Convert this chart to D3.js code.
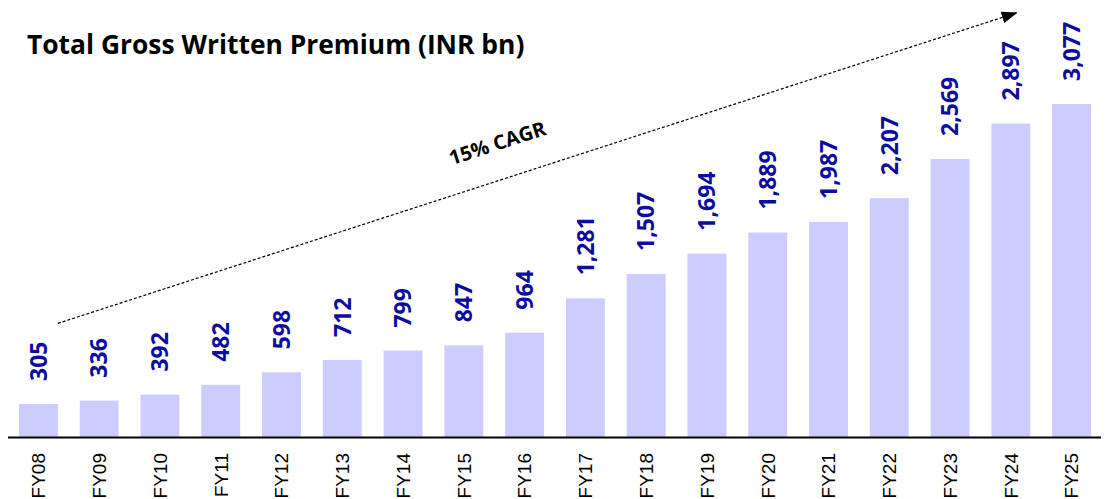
<!DOCTYPE html>
<html>
<head>
<meta charset="utf-8">
<script src="https://cdn.jsdelivr.net/npm/d3@7"></script>
<style>
  html, body { margin: 0; padding: 0; background: #fff; }
  svg { display: block; }
</style>
</head>
<body>
<script>
const years = ["FY08","FY09","FY10","FY11","FY12","FY13","FY14","FY15","FY16","FY17","FY18","FY19","FY20","FY21","FY22","FY23","FY24","FY25"];
const premium = [305,336,392,482,598,712,799,847,964,1281,1507,1694,1889,1987,2207,2569,2897,3077];
const titleText = "Total Gross Written Premium (INR bn)";
const cagrText = "15% CAGR";

const width = 1106, height = 499;
const fmt = d3.format(",");
const boldFont = "'Open Sans', sans-serif";

const svg = d3.select("body").append("svg")
    .attr("width", width).attr("height", height);

// marker for the trend arrow
svg.append("defs").append("marker")
    .attr("id", "arrowHead")
    .attr("viewBox", "0 0 16 12")
    .attr("refX", 15).attr("refY", 6)
    .attr("markerWidth", 16).attr("markerHeight", 12)
    .attr("markerUnits", "userSpaceOnUse")
    .attr("orient", "auto")
  .append("path")
    .attr("d", "M0,0 L16,6 L0,12 Z")
    .attr("fill", "#000");

var x = d3.scaleBand()
    .domain(years)
    .range([8, 1102])
    .paddingInner(0.36)
    .paddingOuter(0.18);

var y = d3.scaleLinear()
    .domain([0, 3500])
    .range([437, 437 - 3500 * 333 / 3077]);

// title
svg.append("text")
    .text(titleText)
    .attr("x", 27).attr("y", 54)
    .attr("font-family", boldFont)
    .attr("font-weight", "bold")
    .attr("font-size", "26.4px")
    .attr("fill", "#000");

// bars
svg.selectAll("rect.bar")
    .data(years)
    .enter().append("rect")
    .attr("class", "bar")
    .attr("x", d => x(d))
    .attr("width", x.bandwidth())
    .attr("y", (d, i) => y(premium[i]))
    .attr("height", (d, i) => y(0) - y(premium[i]))
    .attr("fill", "#ccccff");

// value labels
svg.selectAll("text.val")
    .data(years)
    .enter().append("text")
    .attr("class", "val")
    .attr("transform", (d, i) => "translate(" + (x(d) + x.bandwidth() / 2) + "," + (y(premium[i]) - 23) + ") rotate(-90)")
    .attr("dy", "0.36em")
    .attr("text-anchor", "start")
    .attr("font-family", boldFont)
    .attr("font-weight", "bold")
    .attr("font-size", "23px")
    .attr("fill", "#0c0ca0")
    .text((d, i) => fmt(premium[i]));

// x axis
var xAxis = d3.axisBottom(x).tickSize(0).tickPadding(0);
var gx = svg.append("g")
    .attr("transform", "translate(0," + y(0) + ")")
    .call(xAxis);
gx.select(".domain")
    .attr("d", "M8,0.5H1101")
    .attr("stroke", "#000")
    .attr("stroke-width", 2);
gx.selectAll(".tick text")
    .attr("transform", "rotate(-90)")
    .attr("text-anchor", "end")
    .attr("x", -16)
    .attr("y", 0)
    .attr("dy", "0.36em")
    .attr("font-family", "'Liberation Sans', Arial, sans-serif")
    .attr("font-size", "19px")
    .attr("fill", "#000");

// CAGR trend arrow
const p0 = [x("FY08") + x.bandwidth(), y(1050)];
const p1 = [x("FY24") + x.bandwidth() * 0.65, y(3920)];
svg.append("line")
    .attr("x1", p0[0]).attr("y1", p0[1])
    .attr("x2", p1[0]).attr("y2", p1[1])
    .attr("stroke", "#000")
    .attr("stroke-width", 1.2)
    .attr("stroke-dasharray", "3,2")
    .attr("marker-end", "url(#arrowHead)");

const ang = Math.atan2(p1[1] - p0[1], p1[0] - p0[0]) * 180 / Math.PI;
const t = 0.47;
const cx = p0[0] + (p1[0] - p0[0]) * t, cy = p0[1] + (p1[1] - p0[1]) * t;
svg.append("text")
    .text(cagrText)
    .attr("transform", "translate(" + cx + "," + cy + ") rotate(" + ang + ")")
    .attr("y", -29)
    .attr("text-anchor", "middle")
    .attr("font-family", boldFont)
    .attr("font-weight", "bold")
    .attr("font-size", "20px")
    .attr("fill", "#000");
</script>
</body>
</html>
